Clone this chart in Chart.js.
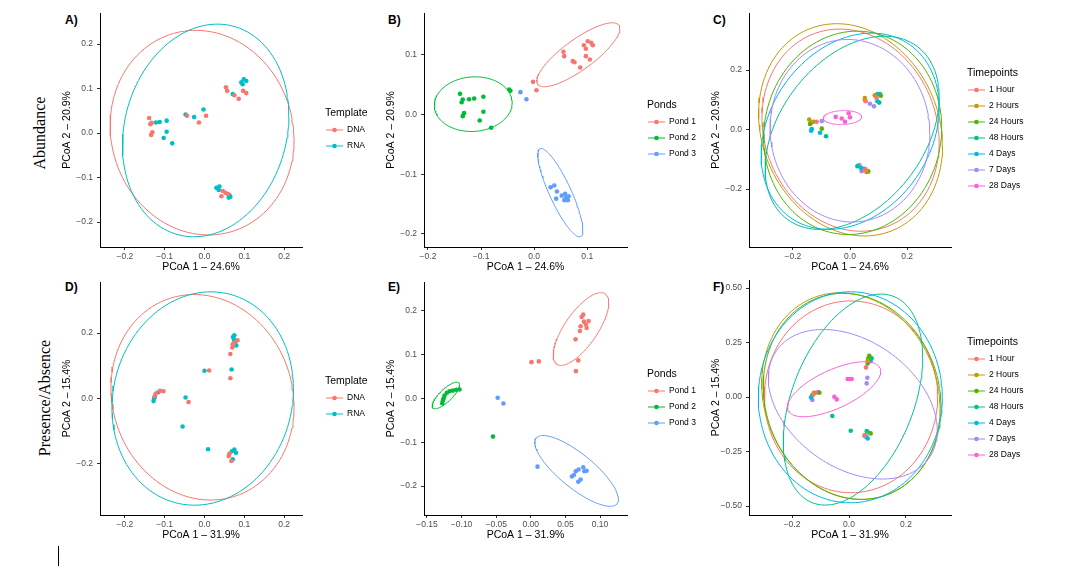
<!DOCTYPE html>
<html>
<head>
<meta charset="utf-8">
<script src="https://cdn.jsdelivr.net/npm/chart.js@4.4.1/dist/chart.umd.min.js"></script>
<style>
  body { margin: 0; background: #fff; width: 1091px; height: 569px; position: relative; overflow: hidden;
         font-family: "Liberation Sans", Arial, sans-serif; }
  canvas { position: absolute; left: 0; top: 0; }
  .tag { position: absolute; font-weight: bold; font-size: 12px; line-height: 12px; }
  .row { position: absolute; font-family: "Liberation Serif", "Times New Roman", serif; font-size: 16px;
         white-space: nowrap; transform: translate(-50%, -50%) rotate(-90deg); }
</style>
</head>
<body>
<div class="tag" style="left:65px;top:14px">A)</div>
<div class="tag" style="left:388px;top:14px">B)</div>
<div class="tag" style="left:713px;top:14px">C)</div>
<div class="tag" style="left:65px;top:281px">D)</div>
<div class="tag" style="left:388px;top:281px">E)</div>
<div class="tag" style="left:713px;top:281px">F)</div>
<div class="row" style="left:40px;top:133px">Abundance</div>
<div class="row" style="left:45px;top:398px">Presence/Absence</div>
<div style="position:absolute;left:58px;top:546px;width:1px;height:20px;background:#000"></div>

<script>
// groups
const templateGroups = ['DNA', 'RNA'];
const pondGroups = ['Pond 1', 'Pond 2', 'Pond 3'];
const timeGroups = ['1 Hour', '2 Hours', '24 Hours', '48 Hours', '4 Days', '7 Days', '28 Days'];

// tick labels
const ticksTemplateX = [-0.2, -0.1, 0, 0.1, 0.2];
const ticksAbundY = [-0.2, -0.1, 0, 0.1, 0.2];
const ticksPondX = [-0.2, -0.1, 0, 0.1];
const ticksTimeX = [-0.2, 0, 0.2];
const ticksTimeAbundY = [-0.2, 0, 0.2];
const ticksPresY = [-0.2, 0, 0.2];
const ticksPondPresX = [-0.15, -0.10, -0.05, 0, 0.05, 0.10];
const ticksPondPresY = [-0.2, -0.1, 0, 0.1, 0.2];
const ticksTimePresY = [-0.5, -0.25, 0, 0.25, 0.5];

// A) abundance, template
const abundDNA = [[-0.139,0.034],[-0.133,0.023],[-0.136,0.020],[-0.131,0.002],[-0.134,-0.004],[-0.044,0.039],
  [-0.014,0.024],[0.004,0.039],[0.054,0.103],[0.057,0.095],[0.075,0.085],[0.086,0.077],[0.097,0.095],[0.105,0.090],
  [0.046,-0.130],[0.0525,-0.134],[0.0425,-0.142],[0.059,-0.137]];
const abundRNA = [[-0.122,0.024],[-0.1125,0.025],[-0.095,0.028],[-0.095,0.003],[-0.1025,-0.011],[-0.081,-0.023],
  [-0.0475,0.042],[-0.026,0.036],[-0.0025,0.053],[0.0925,0.114],[0.099,0.121],[0.105,0.117],[0.096,0.110],[0.071,0.088],
  [0.030,-0.123],[0.0375,-0.120],[0.036,-0.128],[0.0625,-0.139],[0.065,-0.143],[0.061,-0.145]];
// ellipses: centre x, centre y, half width, half height, correlation
const abundTemplateEll = [[-0.006,0.001,0.231,0.230,-0.07],[0.003,0.006,0.209,0.239,0.14]];

// B) abundance, ponds
const abundPond1 = [[-0.002,0.0547],[0.0044,0.0407],[0.0553,0.105],[0.0566,0.0977],[0.073,0.0893],[0.076,0.0876],
  [0.0868,0.0787],[0.0937,0.116],[0.101,0.1228],[0.0975,0.110],[0.1075,0.120],[0.1107,0.116],[0.0975,0.0977],[0.105,0.092]];
const abundPond2 = [[-0.1396,0.0346],[-0.1345,0.025],[-0.1365,0.0206],[-0.1226,0.0256],[-0.113,0.0268],[-0.0956,0.0296],
  [-0.132,0.0022],[-0.1345,-0.0028],[-0.0956,0.0045],[-0.1025,-0.010],[-0.081,-0.0223],[-0.047,0.0419],[-0.0447,0.0397]];
const abundPond3 = [[-0.0258,0.0374],[-0.0145,0.0256],[0.031,-0.122],[0.038,-0.119],[0.043,-0.129],[0.0415,-0.141],
  [0.052,-0.136],[0.0585,-0.133],[0.060,-0.14],[0.0635,-0.1435],[0.057,-0.1435],[0.065,-0.137]];
const abundPondEll = [[0.0834,0.100,0.0783,0.0536,0.82],[-0.1147,0.0173,0.0733,0.0458,0.05],[0.0494,-0.131,0.0425,0.074,-0.85]];

// C) abundance, timepoints
const abundH1 = [[-0.117,0.026],[0.055,0.095],[0.093,0.107],[0.055,-0.134],[0.05,-0.137]];
const abundH2 = [[-0.143,0.034],[-0.128,0.026],[0.052,0.106],[0.052,0.099],[0.087,0.115],[0.058,-0.143]];
const abundH24 = [[-0.140,0.019],[-0.099,0.003],[0.108,0.114],[0.064,-0.140],[0.062,-0.142]];
const abundH48 = [[-0.084,-0.0225],[0.1026,0.0907],[0.026,-0.123],[0.05,-0.132]];
const abundD4 = [[-0.134,0.002],[-0.136,-0.004],[-0.105,-0.011],[0.096,0.119],[0.105,0.119],[0.096,0.095],[0.0385,-0.129],[0.044,-0.1345]];
const abundD7 = [[-0.136,0.0225],[-0.099,0.029],[0.07,0.087],[0.084,0.078],[0.033,-0.119],[0.041,-0.140]];
const abundD28 = [[-0.050,0.0426],[-0.029,0.037],[-0.0175,0.026],[-0.0046,0.055],[0.0,0.041]];
const abundTimeEll = [[0.002,-0.002,0.3105,0.340,-0.12],[0.002,-0.001,0.3224,0.357,-0.15],[0.0093,-0.011,0.312,0.342,0.05],
  [0.0077,-0.011,0.305,0.325,0.37],[0.0007,-0.0057,0.312,0.330,0.24],[0,-0.004,0.28,0.307,-0.03],[-0.0263,0.0403,0.067,0.0235,0.1]];

// D) presence/absence, template
const presDNA = [[0.083,0.178],[0.071,0.166],[0.070,0.156],[0.065,0.136],[0.074,0.17],[0.0117,0.0855],[0.065,0.062],
  [-0.103,0.022],[-0.1117,0.0235],[-0.1225,0.015],[-0.125,0.007],[-0.040,-0.011],[0.063,-0.168],[0.061,-0.176],[0.0675,-0.191]];
const presRNA = [[0.075,0.193],[0.0717,0.188],[0.0775,0.173],[0.080,0.162],[0.074,0.18],[0.0,0.085],[0.068,0.0886],
  [-0.1158,0.019],[-0.1267,-0.001],[-0.128,-0.008],[-0.125,0.004],[-0.0475,0.003],[-0.055,-0.0855],[0.009,-0.155],
  [0.075,-0.156],[0.069,-0.161],[0.079,-0.166],[0.071,-0.186]];
const presTemplateEll = [[-0.005,0.0037,0.23,0.314,-0.09],[-0.0045,0.0,0.228,0.326,0.09]];

// E) presence/absence, ponds
const presPond1 = [[0.0758,0.1915],[0.0735,0.186],[0.0768,0.1755],[0.0836,0.177],[0.0797,0.169],[0.0807,0.161],[0.072,0.165],
  [0.071,0.154],[0.0647,0.135],[0.0686,0.087],[0.0652,0.0625],[0.001,0.083],[0.0116,0.0847]];
const presPond2 = [[-0.103,0.0206],[-0.1077,0.020],[-0.1126,0.018],[-0.1174,0.0167],[-0.1213,0.013],[-0.1246,0.007],
  [-0.126,0.0007],[-0.127,-0.0046],[-0.128,-0.0107],[-0.0546,-0.087]];
const presPond3 = [[-0.0478,0.0016],[-0.0396,-0.0114],[0.0097,-0.1556],[0.065,-0.166],[0.0623,-0.1746],[0.0594,-0.178],
  [0.069,-0.162],[0.0758,-0.157],[0.0773,-0.166],[0.0807,-0.165],[0.0686,-0.19],[0.072,-0.185]];
const presPondEll = [[0.0725,0.1586,0.0401,0.0831,0.72],[-0.1227,0.0069,0.0198,0.0305,0.8],[0.0662,-0.1654,0.0604,0.0808,-0.8]];

// F) presence/absence, timepoints
const presH1 = [[0.0596,0.136],[-0.125,0.012],[0.054,-0.178]];
const presH2 = [[0.0655,0.1666],[-0.123,0.0197],[0.056,-0.174]];
const presH24 = [[0.0713,0.1894],[0.068,0.1775],[0.0655,0.1545],[-0.104,0.0197],[0.076,-0.1667]];
const presH48 = [[0.0796,0.1775],[-0.1287,0.009],[-0.0585,-0.087],[0.006,-0.1545],[0.062,-0.156]];
const presD4 = [[0.076,0.165],[-0.133,-0.0015],[0.0655,-0.1896],[0.06,-0.182]];
const presD7 = [[0.0643,0.0886],[0.062,0.0627],[-0.1287,-0.0138],[0.068,-0.162]];
const presD28 = [[-0.0046,0.0826],[0.0035,0.0826],[0.0093,0.0826],[-0.0515,0.0014],[-0.043,-0.0107],[-0.1076,0.023],[-0.116,0.0197]];
const presTimeEll = [[0.007,0.001,0.304,0.44,0],[0.0065,0.0046,0.313,0.474,-0.12],[0.011,0.003,0.312,0.4725,-0.1],
  [0.014,-0.0115,0.2446,0.484,0.4],[0.0046,-0.001,0.323,0.484,0],[0.0134,-0.033,0.2965,0.343,-0.35],[-0.0526,0.0358,0.1637,0.126,0.65]];

const hue2 = ['#F8766D', '#00BFC4'];
const hue3 = ['#F8766D', '#00BA38', '#619CFF'];
const hue7 = ['#F8766D', '#C49A00', '#53B400', '#00C094', '#00B6EB', '#A58AFF', '#FB61D7'];
const FONT = '"Liberation Sans", Arial, sans-serif';

function ellipsePath(e) {
  const [cx, cy, sx, sy, r] = e;
  const k = Math.sqrt(1 - r * r);
  const pts = [];
  for (let i = 0; i <= 120; i++) {
    const t = i / 120 * 2 * Math.PI;
    pts.push({x: cx + sx * Math.cos(t), y: cy + sy * (r * Math.cos(t) + k * Math.sin(t))});
  }
  return pts;
}

function fmt(v, dec) {
  const s = Math.abs(v).toFixed(dec);
  return (v < -1e-9 ? '\u2212' : '') + s;
}

const ggLegend = {
  id: 'ggLegend',
  afterDraw(chart, args, o) {
    const ctx = chart.ctx;
    ctx.save();
    ctx.textBaseline = 'middle';
    ctx.fillStyle = '#000';
    ctx.font = '10.5px ' + FONT;
    ctx.fillText(o.title, o.x, o.titleY);
    ctx.font = '8.5px ' + FONT;
    o.labels.forEach((lab, i) => {
      const y = o.y0 + i * 16;
      ctx.strokeStyle = o.colors[i];
      ctx.lineWidth = 1;
      ctx.beginPath();
      ctx.moveTo(o.x + 1, y);
      ctx.lineTo(o.x + 18, y);
      ctx.stroke();
      ctx.fillStyle = o.colors[i];
      ctx.beginPath();
      ctx.arc(o.x + 9.5, y, 2.3, 0, 2 * Math.PI);
      ctx.fill();
      ctx.fillStyle = '#000';
      ctx.fillText(lab, o.x + 22, y);
    });
    ctx.restore();
  }
};

function panel(p) {
  const canvas = document.createElement('canvas');
  canvas.width = 1091;
  canvas.height = 569;
  document.body.appendChild(canvas);
  const W = 39, H = 26;
  const datasets = [];
  p.series.forEach((pts, i) => datasets.push({
    label: p.groups[i],
    data: pts.map(q => ({x: q[0], y: q[1]})),
    backgroundColor: p.colors[i], borderWidth: 0, pointRadius: 2.3, pointHoverRadius: 2.3, order: 100
  }));
  p.ellipses.forEach((e, i) => datasets.push({
    label: p.groups[i] + ' ellipse',
    data: ellipsePath(e),
    showLine: true, fill: false, tension: 0, pointRadius: 0, pointHoverRadius: 0,
    borderColor: p.colors[i], borderWidth: 1, order: 50 - i
  }));
  const axis = (range, ticks, dec, title, isX) => ({
    type: 'linear', min: range[0], max: range[1],
    afterFit: s => { if (isX) s.height = H; else s.width = W; },
    afterBuildTicks: s => { s.ticks = ticks.map(v => ({value: v})); },
    grid: {drawOnChartArea: false, drawTicks: true, tickLength: 3, color: '#333333', lineWidth: 1},
    border: {display: true, color: '#000', width: 1},
    ticks: {font: {size: 8.5, family: FONT}, color: '#4D4D4D', padding: isX ? 2 : 4,
            maxRotation: 0, autoSkip: false, callback: v => fmt(v, dec)},
    title: {display: true, text: title, font: {size: 10.5, family: FONT}, color: '#000', padding: 0}
  });
  new Chart(canvas, {
    type: 'scatter',
    data: {datasets},
    options: {
      responsive: false, animation: false, devicePixelRatio: 1,
      events: [],
      layout: {padding: {left: p.box[0] - W, top: p.box[1], right: 1091 - p.box[2], bottom: 569 - p.box[3] - H}},
      plugins: {
        legend: {display: false}, tooltip: {enabled: false},
        ggLegend: {title: p.legendTitle, labels: p.groups, colors: p.colors, x: p.legendX, titleY: p.legendY, y0: p.legendY + 17}
      },
      scales: {
        x: axis(p.xRange, p.xTicks, p.xDec, p.xTitle, true),
        y: axis(p.yRange, p.yTicks, p.yDec, p.yTitle, false)
      }
    },
    plugins: [ggLegend]
  });
}

panel({box: [100, 13, 302, 247], xRange: [-0.2625, 0.245], yRange: [-0.256, 0.27],
  xTicks: ticksTemplateX, yTicks: ticksAbundY, xDec: 1, yDec: 1,
  xTitle: 'PCoA 1 \u2013 24.6%', yTitle: 'PCoA 2 \u2013 20.9%',
  groups: templateGroups, colors: hue2, series: [abundDNA, abundRNA], ellipses: abundTemplateEll,
  legendTitle: 'Template', legendX: 325, legendY: 113});

panel({box: [424, 13, 627, 247], xRange: [-0.2075, 0.175], yRange: [-0.222, 0.17],
  xTicks: ticksPondX, yTicks: ticksAbundY.slice(0, 4), xDec: 1, yDec: 1,
  xTitle: 'PCoA 1 \u2013 24.6%', yTitle: 'PCoA 2 \u2013 20.9%',
  groups: pondGroups, colors: hue3, series: [abundPond1, abundPond2, abundPond3], ellipses: abundPondEll,
  legendTitle: 'Ponds', legendX: 647, legendY: 105});

panel({box: [749, 13, 951, 247], xRange: [-0.354, 0.354], yRange: [-0.395, 0.392],
  xTicks: ticksTimeX, yTicks: ticksTimeAbundY, xDec: 1, yDec: 1,
  xTitle: 'PCoA 1 \u2013 24.6%', yTitle: 'PCoA 2 \u2013 20.9%',
  groups: timeGroups, colors: hue7, series: [abundH1, abundH2, abundH24, abundH48, abundD4, abundD7, abundD28],
  ellipses: abundTimeEll, legendTitle: 'Timepoints', legendX: 967, legendY: 73});

panel({box: [100, 282, 302, 515], xRange: [-0.2625, 0.245], yRange: [-0.356, 0.356],
  xTicks: ticksTemplateX, yTicks: ticksPresY, xDec: 1, yDec: 1,
  xTitle: 'PCoA 1 \u2013 31.9%', yTitle: 'PCoA 2 \u2013 15.4%',
  groups: templateGroups, colors: hue2, series: [presDNA, presRNA], ellipses: presTemplateEll,
  legendTitle: 'Template', legendX: 325, legendY: 381});

panel({box: [424, 282, 627, 515], xRange: [-0.1543, 0.139], yRange: [-0.266, 0.266],
  xTicks: ticksPondPresX, yTicks: ticksPondPresY, xDec: 2, yDec: 1,
  xTitle: 'PCoA 1 \u2013 31.9%', yTitle: 'PCoA 2 \u2013 15.4%',
  groups: pondGroups, colors: hue3, series: [presPond1, presPond2, presPond3], ellipses: presPondEll,
  legendTitle: 'Ponds', legendX: 647, legendY: 374});

panel({box: [749, 280, 951, 515], xRange: [-0.351, 0.358], yRange: [-0.541, 0.537],
  xTicks: ticksTimeX, yTicks: ticksTimePresY, xDec: 1, yDec: 2,
  xTitle: 'PCoA 1 \u2013 31.9%', yTitle: 'PCoA 2 \u2013 15.4%',
  groups: timeGroups, colors: hue7, series: [presH1, presH2, presH24, presH48, presD4, presD7, presD28],
  ellipses: presTimeEll, legendTitle: 'Timepoints', legendX: 967, legendY: 342});
</script>
</body>
</html>
